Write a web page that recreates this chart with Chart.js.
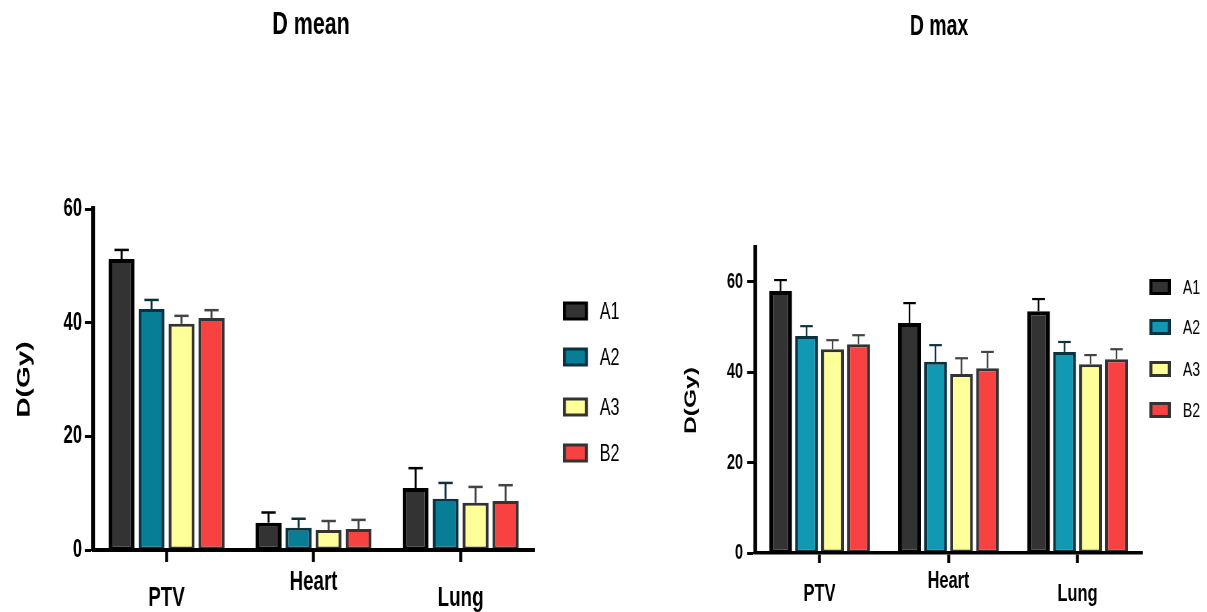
<!DOCTYPE html>
<html><head><meta charset="utf-8">
<script src="https://cdn.jsdelivr.net/npm/chart.js@4.4.0/dist/chart.umd.min.js"></script>
<style>
html,body{margin:0;padding:0;background:#fff;width:1207px;height:612px;overflow:hidden;position:relative}
canvas{position:absolute;top:0;transform-origin:0 0}
</style></head><body>
<canvas id="c1"></canvas>
<canvas id="c2"></canvas>
<script>
// ---- data ----
const categories = ['PTV', 'Heart', 'Lung'];
const seriesNames = ['A1', 'A2', 'A3', 'B2'];

// D mean (Gy)
const meanA1 = [51.2, 4.8, 10.9];
const meanA2 = [42.4, 3.9, 9.0];
const meanA3 = [39.8, 3.5, 8.3];
const meanB2 = [40.8, 3.7, 8.6];
const meanErrA1 = [1.6, 1.8, 3.5];
const meanErrA2 = [1.6, 1.6, 2.8];
const meanErrA3 = [1.4, 1.6, 2.8];
const meanErrB2 = [1.4, 1.6, 2.8];

// D max (Gy)
const maxA1 = [58.0, 50.9, 53.5];
const maxA2 = [48.0, 42.3, 44.5];
const maxA3 = [45.1, 39.6, 41.8];
const maxB2 = [46.2, 40.9, 42.9];
const maxErrA1 = [2.4, 4.4, 2.7];
const maxErrA2 = [2.2, 3.7, 2.2];
const maxErrA3 = [2.0, 3.5, 2.0];
const maxErrB2 = [2.0, 3.6, 2.2];

const meanTicks = [0, 20, 40, 60];
const maxTicks = [0, 20, 40, 60];

// ---- styling ----
const SX = 0.67;               // horizontal squeeze of the original figure
const FONT = '"Liberation Sans", Arial, sans-serif';

const errorBars = {
  id: 'errorBars',
  afterDatasetsDraw(chart, args, opts) {
    const ctx = chart.ctx, ys = chart.scales.y;
    chart.data.datasets.forEach((ds, i) => {
      const meta = chart.getDatasetMeta(i);
      meta.data.forEach((bar, j) => {
        const yTop = ys.getPixelForValue(ds.data[j] + ds.errors[j]);
        const cw = bar.width * opts.cap;
        ctx.save();
        ctx.strokeStyle = ds.errorColor;
        ctx.lineWidth = opts.lw / SX;
        ctx.beginPath();
        ctx.moveTo(bar.x, bar.y);
        ctx.lineTo(bar.x, yTop);
        ctx.stroke();
        ctx.lineWidth = opts.capLw;
        ctx.beginPath();
        ctx.moveTo(bar.x - cw / 2, yTop);
        ctx.lineTo(bar.x + cw / 2, yTop);
        ctx.stroke();
        ctx.restore();
      });
    });
  }
};

const sideLegend = {
  id: 'sideLegend',
  afterDraw(chart, args, opts) {
    const ctx = chart.ctx;
    ctx.save();
    chart.data.datasets.forEach((ds, i) => {
      const y = opts.ys[i];
      const bx = opts.bw / SX;
      ctx.fillStyle = ds.borderColor;
      ctx.fillRect(opts.x, y - opts.h / 2, opts.w, opts.h);
      ctx.fillStyle = ds.backgroundColor;
      ctx.fillRect(opts.x + bx, y - opts.h / 2 + opts.bw, opts.w - 2 * bx, opts.h - 2 * opts.bw);
      ctx.fillStyle = '#000';
      ctx.font = opts.size + 'px ' + FONT;
      ctx.textBaseline = 'middle';
      ctx.textAlign = 'left';
      ctx.fillText(ds.label, opts.tx, y + 1);
    });
    ctx.restore();
  }
};

function makeDatasets(vals, errs, a2fill) {
  const fills = ['#333333', a2fill, '#FFFF99', '#F84242'];
  const borders = ['#000000', '#0A3341', '#333333', '#333333'];
  const errCols = ['#000000', '#0A3341', '#444444', '#444444'];
  return seriesNames.map((n, i) => {
    const t = i === 0 ? 4 : 3;
    return {
      label: n,
      data: vals[i],
      errors: errs[i],
      errorColor: errCols[i],
      backgroundColor: fills[i],
      borderColor: borders[i],
      borderWidth: { top: t, bottom: 3, left: t / SX, right: t / SX },
      borderSkipped: false
    };
  });
}

function makeChart(id, p) {
  const cv = document.getElementById(id);
  cv.width = p.W; cv.height = 612;
  cv.style.left = p.left + 'px';
  cv.style.width = p.W + 'px';
  cv.style.height = '612px';
  cv.style.transform = 'scaleX(' + SX + ')';
  return new Chart(cv, {
    type: 'bar',
    data: { labels: categories, datasets: p.datasets },
    options: {
      responsive: false,
      animation: false,
      devicePixelRatio: 1,
      layout: { padding: 0 },
      datasets: { bar: { categoryPercentage: p.catPct, barPercentage: p.barPct } },
      plugins: {
        legend: { display: false },
        tooltip: { enabled: false },
        title: {
          display: true, text: p.title, color: '#000',
          font: { family: FONT, size: p.titleSize, weight: 'bold', lineHeight: 1.2 },
          padding: { top: p.titleTop, bottom: p.titleBottom }
        },
        errorBars: p.err,
        sideLegend: p.legend
      },
      scales: {
        x: {
          offset: true,
          afterFit: s => { s.height = p.xHeight; },
          grid: { display: true, offset: false, drawOnChartArea: false, drawTicks: true,
                  tickLength: p.xTickLen, tickWidth: 3 / SX, tickColor: '#000' },
          border: { display: true, color: '#000', width: p.axisW, z: 1 },
          ticks: {
            color: '#000', padding: p.xPad, maxRotation: 0, autoSkip: false,
            font: { family: FONT, size: p.xFont, weight: 'bold', lineHeight: p.xLine },
            callback: (v, i) => i === 1 ? categories[i] : ['', categories[i]]
          }
        },
        y: {
          min: 0, max: p.yMax,
          afterFit: s => { s.width = p.yWidth; },
          afterBuildTicks: s => { s.ticks = p.ticks.map(v => ({ value: v })); },
          grid: { display: true, drawOnChartArea: false, drawTicks: true,
                  tickLength: 8 / SX, tickWidth: 3, tickColor: '#000' },
          border: { display: true, color: '#000', width: p.axisW / SX, z: 1 },
          ticks: { color: '#000', padding: p.yPad / SX,
                   font: { family: FONT, size: p.yFont, weight: 'bold' } },
          title: { display: true, text: 'D(Gy)', color: '#000',
                   font: { family: FONT, size: p.yTitleSize, weight: 'bold', lineHeight: 1.2 },
                   padding: { top: p.yTitlePad, bottom: 0 } }
        },
        legendSpace: {
          type: 'linear', position: 'right', display: true,
          afterFit: s => { s.width = p.rightSpace; },
          grid: { display: false }, border: { display: false }, ticks: { display: false }
        }
      }
    },
    plugins: [errorBars, sideLegend]
  });
}

// left panel: page x -20 .. 642
makeChart('c1', {
  left: -20, W: 988,
  title: 'D mean', titleSize: 32, titleTop: 6, titleBottom: 164.6,
  datasets: makeDatasets([meanA1, meanA2, meanA3, meanB2], [meanErrA1, meanErrA2, meanErrA3, meanErrB2], '#077D96'),
  rightSpace: 161, catPct: 0.816, barPct: 0.867,
  xHeight: 62, xTickLen: 12, xPad: 12, xFont: 28, xLine: '16px', axisW: 4,
  yMax: 60, ticks: meanTicks, yWidth: 168.7, yPad: 3, yFont: 25,
  yTitleSize: 28, yTitlePad: 49,
  err: { cap: 0.55, lw: 2, capLw: 2.5 },
  legend: { x: 870, w: 37.3, h: 19, bw: 3, ys: [311, 357, 407, 453], tx: 925, size: 24 }
});

// right panel: page x 671 .. 1207
makeChart('c2', {
  left: 671, W: 800,
  title: 'D max', titleSize: 29, titleTop: 9.3, titleBottom: 203.9,
  datasets: makeDatasets([maxA1, maxA2, maxA3, maxB2], [maxErrA1, maxErrA2, maxErrA3, maxErrB2], '#1199B3'),
  rightSpace: 97, catPct: 0.806, barPct: 0.88,
  xHeight: 59, xTickLen: 10, xPad: 12, xFont: 24.5, xLine: '13px', axisW: 3.5,
  yMax: 67.5, ticks: maxTicks, yWidth: 125.4, yPad: 4, yFont: 21.5,
  yTitleSize: 24.6, yTitlePad: 15,
  err: { cap: 0.55, lw: 1.6, capLw: 2.2 },
  legend: { x: 714, w: 32, h: 16, bw: 3, ys: [287, 327, 369, 410], tx: 764, size: 21 }
});
</script>
</body></html>
